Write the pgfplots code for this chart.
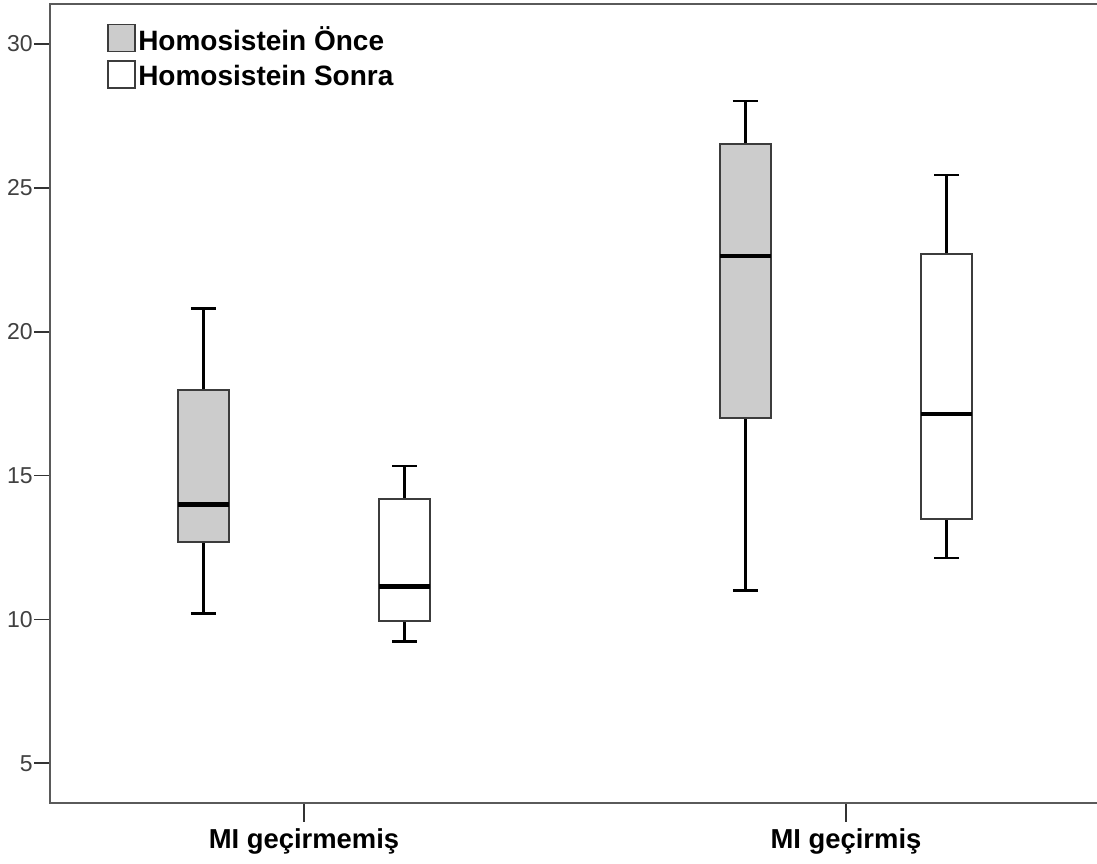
\documentclass[border=0pt]{standalone}
\usepackage{fontspec}
\setmainfont{Liberation Sans}
\usepackage{pgfplots}
\pgfplotsset{compat=1.18}
\usepgfplotslibrary{statistics}
\definecolor{boxgray}{RGB}{204,204,204}
\definecolor{edge}{RGB}{60,60,60}
\definecolor{frame}{RGB}{90,90,90}

\begin{document}
\begin{tikzpicture}
\begin{axis}[
  at={(0,0)}, anchor=south west,
  scale only axis, width=523.5pt, height=399.5pt,
  xmin=0.5314, xmax=2.4631, ymin=3.62, ymax=31.39,
  clip=false,
  boxplot/draw direction=y,
  axis line style={draw=none},
  tick align=outside, major tick length=8pt,
  ytick={5,10,15,20,25,30}, ytick pos=left,
  xtick={1,2}, xticklabels={MI geçirmemiş, MI geçirmiş},
  xtick pos=bottom, xtick style={draw=none},
  ytick style={black!80, line width=0.8pt},
  /pgf/number format/assume math mode=true,
  yticklabel style={font=\fontsize{11.5}{13}\selectfont, text=black!75, inner sep=0.5pt},
  xticklabel style={font=\bfseries\fontsize{13.7}{16}\selectfont, yshift=-1.5pt},
  legend cell align=left,
  legend style={at={(rel axis cs:0.0545,0.976)}, anchor=north west,
    draw=none, fill=none, inner sep=0pt, row sep=2.2pt,
    font=\bfseries\fontsize{14}{16}\selectfont, nodes={inner sep=1pt}},
  boxplot/every box/.style={draw=edge, line width=1pt},
  boxplot/every whisker/.style={black, line width=1.2pt},
  boxplot/every median/.style={black, line width=2.2pt},
]
% MI geçirmemiş, before
\addplot[boxplot prepared={draw position=0.8145,
    lower whisker=10.2, lower quartile=12.68, median=14.0,
    upper quartile=17.97, upper whisker=20.8,
    box extend=0.094, whisker extend=0.046},
  fill=boxgray, draw=edge,
  legend image code/.code={\draw[fill=boxgray, draw=edge, line width=0.9pt] (0pt,-5.5pt) rectangle (13.5pt,8pt);}]
  coordinates {};
\addlegendentry{Homosistein Önce}
% MI geçirmemiş, after
\addplot[boxplot prepared={draw position=1.1855,
    lower whisker=9.24, lower quartile=9.94, median=11.15,
    upper quartile=14.18, upper whisker=15.33,
    box extend=0.094, whisker extend=0.046},
  fill=white, draw=edge,
  legend image code/.code={\draw[fill=white, draw=edge, line width=0.9pt] (0pt,-5.5pt) rectangle (13.5pt,8pt);}]
  coordinates {};
\addlegendentry{Homosistein Sonra}
% MI geçirmiş, before
\addplot[forget plot, boxplot prepared={draw position=1.8145,
    lower whisker=11.01, lower quartile=17.0, median=22.63,
    upper quartile=26.52, upper whisker=28.02,
    box extend=0.094, whisker extend=0.046},
  fill=boxgray, draw=edge]
  coordinates {};
% MI geçirmiş, after
\addplot[forget plot, boxplot prepared={draw position=2.1855,
    lower whisker=12.13, lower quartile=13.48, median=17.13,
    upper quartile=22.70, upper whisker=25.44,
    box extend=0.094, whisker extend=0.046},
  fill=white, draw=edge]
  coordinates {};
% category ticks below the x axis
\draw[black!80, line width=0.8pt] (axis cs:1,3.62) -- ([yshift=-9.5pt]axis cs:1,3.62);
\draw[black!80, line width=0.8pt] (axis cs:2,3.62) -- ([yshift=-9.5pt]axis cs:2,3.62);
% frame: left, top and bottom
\draw[frame, line width=1.1pt] (rel axis cs:1,1) -- (rel axis cs:0,1) -- (rel axis cs:0,0) -- (rel axis cs:1,0);
\end{axis}
\pgfresetboundingbox
\path[use as bounding box] (-25pt,-30pt) rectangle (523.5pt,401.5pt);
\end{tikzpicture}
\end{document}
